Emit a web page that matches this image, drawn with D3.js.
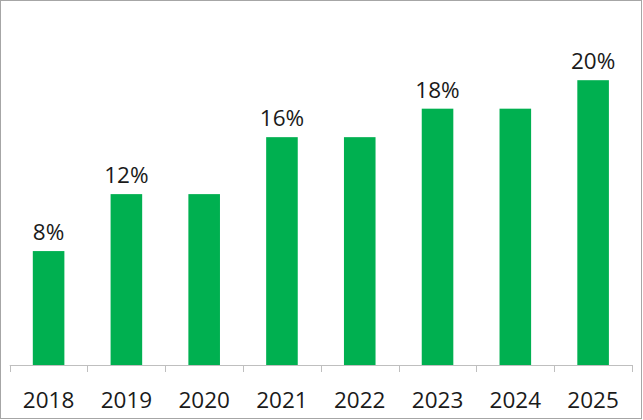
<!DOCTYPE html>
<html>
<head>
<meta charset="utf-8">
<script src="https://cdn.jsdelivr.net/npm/d3@7"></script>
<style>
  html, body { margin: 0; padding: 0; background: #fff; }
  svg { display: block; font-family: "Open Sans", Lato, sans-serif; }
</style>
</head>
<body>
<div id="chart"></div>
<script>
// Data
var years  = ["2018", "2019", "2020", "2021", "2022", "2023", "2024", "2025"];
var values = [8, 12, 12, 16, 16, 18, 18, 20];
var labels = ["8%", "12%", "", "16%", "", "18%", "", "20%"];

var width = 643, height = 420;
var baseY = 365, topY = 9;
var font = "'Open Sans', Lato, sans-serif";

var svg = d3.select("#chart").append("svg")
    .attr("width", width)
    .attr("height", height);

// frame
svg.append("rect")
    .attr("x", 0.5).attr("y", 0.5)
    .attr("width", 641).attr("height", 418)
    .attr("fill", "#fff")
    .attr("stroke", "#a6a6a6");

var x = d3.scaleBand()
    .domain(years)
    .range([9.7, 632])
    .paddingInner(0.594)
    .paddingOuter(0.297);

var y = d3.scaleLinear()
    .domain([0, 25])
    .range([baseY, topY]);

// bars
svg.selectAll("rect.bar")
    .data(values)
    .enter().append("rect")
        .attr("class", "bar")
        .attr("x", function(d, i) { return x(years[i]); })
        .attr("y", function(d) { return y(d); })
        .attr("width", x.bandwidth())
        .attr("height", function(d) { return y(0) - y(d); })
        .attr("fill", "#00b050");

// value labels
svg.selectAll("text.val")
    .data(values)
    .enter().append("text")
        .attr("class", "val")
        .attr("x", function(d, i) { return x(years[i]) + x.bandwidth() / 2; })
        .attr("y", function(d) { return y(d) - 11; })
        .attr("text-anchor", "middle")
        .attr("font-size", 22.5)
        .attr("font-family", font)
        .attr("fill", "#1a1a1a")
        .text(function(d, i) { return labels[i]; });

// x axis
var axis = svg.append("g")
    .attr("transform", "translate(0," + baseY + ")")
    .call(d3.axisBottom(x).tickSize(0).tickPadding(0));
axis.select(".domain").attr("stroke", "#bfbfbf").attr("d", "M" + x.range()[0] + ",0.5H" + x.range()[1]);
axis.selectAll(".tick text")
    .attr("dy", null)
    .attr("y", 42.5)
    .attr("font-size", 22.5)
    .attr("font-family", font)
    .attr("fill", "#1a1a1a");

// ticks at band boundaries
var bounds = d3.range(years.length + 1).map(function(i) { return x.range()[0] + i * x.step(); });
axis.selectAll("line.bound")
    .data(bounds)
    .enter().append("line")
        .attr("class", "bound")
        .attr("x1", function(d) { return Math.round(d) + 0.5; })
        .attr("x2", function(d) { return Math.round(d) + 0.5; })
        .attr("y1", 0)
        .attr("y2", 7)
        .attr("stroke", "#bfbfbf");
</script>
</body>
</html>
